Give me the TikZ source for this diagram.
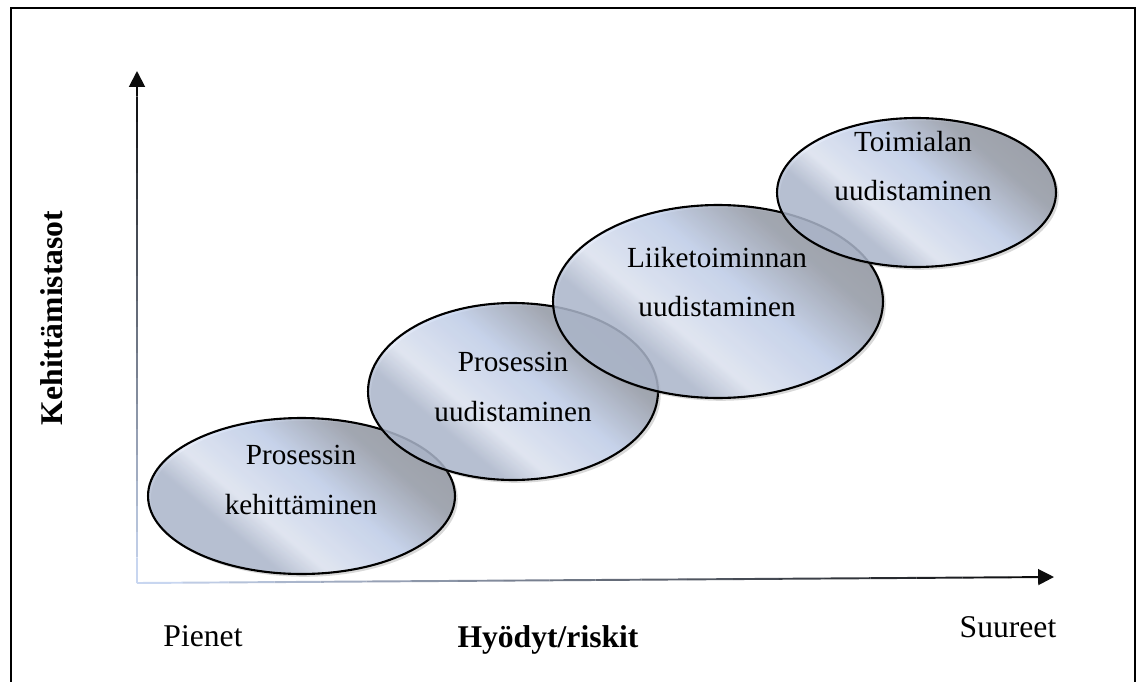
\documentclass[tikz,border=0pt]{standalone}
\usepackage{fontspec}
\setmainfont{Liberation Serif}
\usetikzlibrary{arrows.meta,positioning,shapes.geometric,shadows,calc}

\definecolor{ovalblue}{RGB}{194,209,238}
\definecolor{ovalgrey}{RGB}{128,130,136}
\definecolor{ovalshine}{RGB}{226,232,246}
\definecolor{axisblue}{RGB}{200,214,240}

% grey top right, light blue body, shiny band low left
\pgfdeclareverticalshading{ovalshade}{100bp}{
  color(0bp)=(ovalgrey!30!ovalblue);
  color(34bp)=(ovalgrey!30!ovalblue);
  color(41bp)=(ovalshine);
  color(55bp)=(ovalblue);
  color(68bp)=(ovalgrey!70!ovalblue);
  color(100bp)=(ovalgrey)}

\tikzset{
  oval/.style={ellipse, draw=black, line width=1.2pt, inner sep=0pt,
    shading=ovalshade, shading angle=-40, fill opacity=0.8,
    drop shadow={opacity=0.3, shadow xshift=1.6pt, shadow yshift=-1.6pt}},
  ovaltext/.style={font=\fontsize{16.6}{28.3}\selectfont, align=center, inner sep=0pt},
  axislabel/.style={font=\fontsize{18}{20}\selectfont, inner sep=0pt, anchor=base},
  axistip/.style={-{Triangle[length=9pt, width=9pt]}, line width=1.1pt}
}

\begin{document}
\begin{tikzpicture}[x=0.02cm, y=-0.02cm]
\useasboundingbox (0,0) rectangle (1138,682);

% frame
\draw[line width=1.1pt] (11,700) -- (11,8) -- (1135,8) -- (1135,700);

% axes
\coordinate (origin) at (137,583);
\coordinate (ytip) at (137,71);
\coordinate (xtip) at (1054,577);
\foreach \i [evaluate=\i as \p using {100-5*\i}, evaluate=\i as \j using {\i+1}] in {0,...,18} {
  \draw[line width=1.1pt, draw=axisblue!\p!black] ($(origin)!\i/20!(ytip)$) -- ($(origin)!\j/20!(ytip)$);
  \draw[line width=1.1pt, draw=axisblue!\p!black] ($(origin)!\i/20!(xtip)$) -- ($(origin)!\j/20!(xtip)$);
}
\draw[axistip, black!95] ($(origin)!19/20!(ytip)$) -- (ytip);
\draw[axistip, black!95] ($(origin)!19/20!(xtip)$) -- (xtip);

% ovals, lowest first
\node[oval, minimum width=6.14cm, minimum height=3.12cm] (e1) at (301.5,496) {};
\node[oval, minimum width=5.8cm, minimum height=3.54cm] (e2) at (513,391.5) {};
\node[oval, minimum width=6.6cm, minimum height=3.86cm] (e3) at (718,301.5) {};
\node[oval, minimum width=5.58cm, minimum height=2.98cm] (e4) at (916.5,192.5) {};

\node[ovaltext] (t1) at (301,480) {Prosessin\\kehittäminen};
\node[ovaltext] (t2) at (513,387) {Prosessin\\uudistaminen};
\node[ovaltext] (t3) at (717,282) {Liiketoiminnan\\uudistaminen};
\node[ovaltext] (t4) at (913,166) {Toimialan\\uudistaminen};

% labels
\node[axislabel, font=\fontsize{18}{20}\selectfont\bfseries, rotate=90] (ylab) at (62,318) {Kehittämistasot};
\node[axislabel] (small) at (203,646) {Pienet};
\node[axislabel, font=\fontsize{18}{20}\selectfont\bfseries] (xlab) at (548,647) {Hyödyt/riskit};
\node[axislabel] (large) at (1008,637) {Suureet};
\end{tikzpicture}
\end{document}
